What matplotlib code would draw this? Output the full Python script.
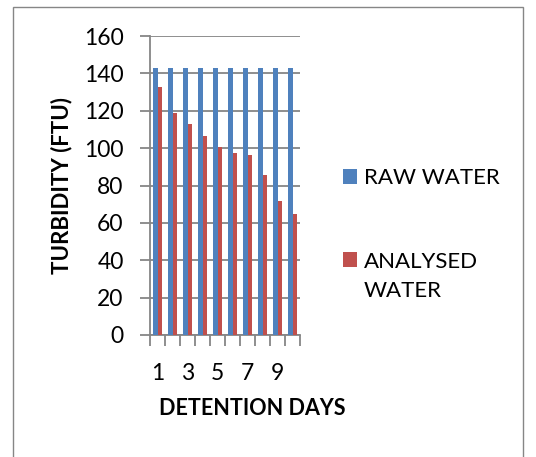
import numpy as np
import matplotlib
matplotlib.use('Agg')
import matplotlib.pyplot as plt
from matplotlib.patches import Rectangle

plt.rcParams['font.family'] = ['Lato', 'DejaVu Sans']

# 数据
days = [1, 2, 3, 4, 5, 6, 7, 8, 9, 10]
raw_water = [143, 143, 143, 143, 143, 143, 143, 143, 143, 143]
analysed_water = [132.5, 119, 113, 106.5, 100.5, 97.5, 96.5, 85.5, 71.5, 64.5]
tick_labels = ['1', '3', '5', '7', '9']

blue = '#4F81BD'
red = '#C0504D'
grey = '#868686'

fig = plt.figure(figsize=(5.36, 4.57), dpi=100)
ax = fig.add_axes([0.2799, 0.267, 0.2799, 0.654])

x = np.array(days)
w = 0.31
ax.bar(x - w / 2, raw_water, width=w, color=blue, label='RAW WATER', zorder=3)
ax.bar(x + w / 2, analysed_water, width=w, color=red, label='ANALYSED\nWATER', zorder=3)

ax.set_xlim(0.5, 10.5)
ax.set_ylim(0, 160)
ax.set_yticks(np.arange(0, 161, 20))
ax.yaxis.grid(True, color=grey, linewidth=1.3, zorder=0)
ax.set_axisbelow(True)

# x 轴刻度
ax.set_xticks([1, 3, 5, 7, 9])
ax.set_xticklabels(tick_labels)
ax.set_xticks(np.arange(0.5, 10.6, 1), minor=True)
ax.tick_params(axis='x', which='major', length=0, pad=20, labelsize=16.5)
ax.tick_params(axis='x', which='minor', length=8, width=1.3, color=grey)
ax.tick_params(axis='y', length=7, width=1.3, color=grey, pad=12, labelsize=16.5)

for s in ['top', 'right']:
    ax.spines[s].set_visible(False)
for s in ['left', 'bottom']:
    ax.spines[s].set_color(grey)
    ax.spines[s].set_linewidth(1.3)

ax.set_xlabel('DETENTION DAYS', fontsize=15.5, fontweight='bold')
ax.xaxis.set_label_coords(0.68, -0.21)
ax.set_ylabel('TURBIDITY (FTU)', fontsize=16, fontweight='bold')
ax.yaxis.set_label_coords(-0.52, 0.5)

fs = 16
leg = ax.legend(loc='upper left', bbox_to_anchor=(1.287, 0.558), frameon=False,
                fontsize=fs, handlelength=0.63, handleheight=0.63,
                handletextpad=0.3, labelspacing=2.85, borderpad=0, borderaxespad=0)
# 多行标签：图例色块对齐第一行
ls = 1.6
leg.get_texts()[1].set_linespacing(ls)
h = leg.legend_handles[1]
h.set_y(h.get_y() + fs * ls * 0.5 * 0.95)

# 外框
fig.patches.append(Rectangle((0.024, -0.01), 0.952, 0.995, transform=fig.transFigure,
                             fill=False, edgecolor=grey, linewidth=1))

plt.savefig('out.png', dpi=100)
